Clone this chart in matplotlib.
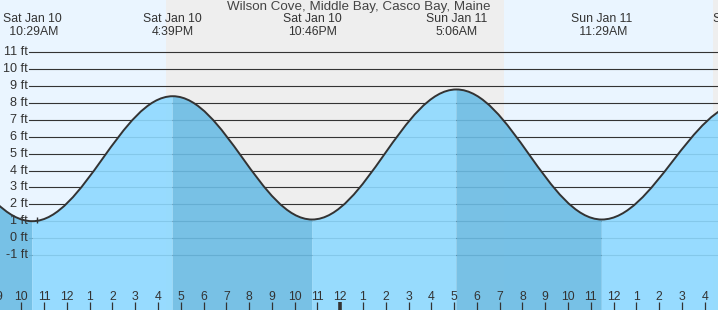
import matplotlib
matplotlib.use("Agg")
import matplotlib.pyplot as plt
from matplotlib.path import Path
from matplotlib.patches import PathPatch

# ---------------- data (hours counted from Sat Jan 10, 00:00) ----------------
tide_hours = [4.25, 10.483, 16.65, 22.767, 29.1, 35.483, 41.7]
tide_heights = [8.2, 1.0, 8.4, 1.1, 8.8, 1.1, 8.0]
tide_days = ["Sat Jan 10", "Sat Jan 10", "Sat Jan 10", "Sat Jan 10",
             "Sun Jan 11", "Sun Jan 11", "Sun Jan 11"]
tide_clock = ["4:15AM", "10:29AM", "4:39PM", "10:46PM", "5:06AM", "11:29AM", "5:42PM"]

# sunset / sunrise boundaries (hours)
night_start = [16.35, 40.36]
night_end = [31.18, 48.0]

level_values = [-1, 0, 1, 2, 3, 4, 5, 6, 7, 8, 9, 10, 11]
level_labels = ["-1 ft", "0 ft", "1 ft", "2 ft", "3 ft", "4 ft", "5 ft", "6 ft",
                "7 ft", "8 ft", "9 ft", "10 ft", "11 ft"]

hour_ticks = list(range(9, 41))
hour_labels = ["9", "10", "11", "12", "1", "2", "3", "4", "5", "6", "7", "8", "9", "10",
               "11", "12", "1", "2", "3", "4", "5", "6", "7", "8", "9", "10", "11",
               "12", "1", "2", "3", "4"]
midnight_hour = 24
now_hour = 10.70
title = "Wilson Cove, Middle Bay, Casco Bay, Maine"

# ---------------- style ----------------
W, H = 718, 310
DPI = 100
FONT = "Liberation Sans"
FS = 8.8
TXT = "#333333"
DAY_BG = "#eaf5ff"
NIGHT_BG = "#eeeeee"
WATER_RISE = "#8ed9ff"
WATER_FALL = "#6bbce4"
K = 0.3634

fig = plt.figure(figsize=(W / DPI, H / DPI), dpi=DPI)
ax = fig.add_axes([0, 0, 1, 1])
ax.set_axis_off()

px_per_hour = 22.78
x0_px, x0_h = 21.3, 10.0
xmin = x0_h - x0_px / px_per_hour
xmax = x0_h + (W - x0_px) / px_per_hour
px_per_ft = 16.89
y11_px = 52.3
ymax = 11 + y11_px / px_per_ft
ymin = 11 - (H - y11_px) / px_per_ft
ax.set_xlim(xmin, xmax)
ax.set_ylim(ymin, ymax)

# backgrounds
ax.axvspan(xmin - 10, xmax + 10, color=DAY_BG, zorder=0, lw=0)
for s, e in zip(night_start, night_end):
    ax.axvspan(s, e, color=NIGHT_BG, zorder=0.1, lw=0)

# grid lines and level labels
line_start = 29.5 / W
for v, lab in zip(level_values, level_labels):
    ax.axhline(v, xmin=line_start, xmax=1, color=TXT, lw=0.8, zorder=1)
    ax.text(27.5 / W, v, lab, transform=ax.get_yaxis_transform(), ha="right",
            va="center", fontsize=9.1, family=FONT, color=TXT, zorder=5)

# water fills (one bezier segment between consecutive extremes)
bottom = ymin - 5
line_verts = [(tide_hours[0], tide_heights[0])]
line_codes = [Path.MOVETO]
for i in range(len(tide_hours) - 1):
    t0, y0 = tide_hours[i], tide_heights[i]
    t1, y1 = tide_hours[i + 1], tide_heights[i + 1]
    d = t1 - t0
    c1 = (t0 + K * d, y0)
    c2 = (t1 - K * d, y1)
    verts = [(t0, bottom), (t0, y0), c1, c2, (t1, y1), (t1, bottom), (t0, bottom)]
    codes = [Path.MOVETO, Path.LINETO, Path.CURVE4, Path.CURVE4, Path.CURVE4,
             Path.LINETO, Path.CLOSEPOLY]
    color = WATER_FALL if y1 < y0 else WATER_RISE
    ax.add_patch(PathPatch(Path(verts, codes), facecolor=color, edgecolor="none",
                           alpha=0.9, zorder=2))
    line_verts += [c1, c2, (t1, y1)]
    line_codes += [Path.CURVE4] * 3

ax.add_patch(PathPatch(Path(line_verts, line_codes), facecolor="none",
                       edgecolor="#333333", lw=1.4, zorder=3))

# small "now" marker
ax.vlines(now_hour, 0.88, 1.27, color=TXT, lw=1.0, zorder=4)

# hour ticks
xt = ax.get_xaxis_transform()
for hr, lab in zip(hour_ticks, hour_labels):
    ax.vlines(hr, 0, 8.5 / H, transform=xt, color=TXT,
              lw=2.6 if hr == midnight_hour else 0.9, zorder=5)
    ax.text(hr, 1 - 296.5 / H, lab, transform=xt, ha="center", va="center",
            fontsize=FS, family=FONT, color=TXT, zorder=5)

# extreme labels at top (only those that reach into the visible area)
for t, dlab, clab in zip(tide_hours, tide_days, tide_clock):
    if t < xmin:
        continue
    ax.text(t, 1 - 19.3 / H, dlab, transform=xt, ha="center", va="center",
            fontsize=FS, family=FONT, color=TXT, zorder=5, clip_on=False)
    ax.text(t, 1 - 32.3 / H, " " + clab if clab.endswith("AM") and len(clab) > 6 else clab,
            transform=xt, ha="center", va="center",
            fontsize=FS, family=FONT, color=TXT, zorder=5, clip_on=False)

fig.text(0.5, 1 - 7.0 / H, title, ha="center", va="center", fontsize=9.6,
         family=FONT, color="#444444")

fig.savefig("out.png", dpi=DPI)
